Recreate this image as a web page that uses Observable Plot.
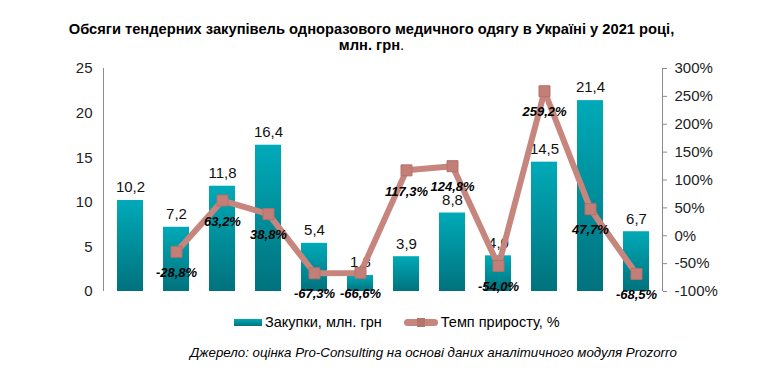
<!DOCTYPE html>
<html>
<head>
<meta charset="utf-8">
<script src="https://cdn.jsdelivr.net/npm/d3@7"></script>
<script src="https://cdn.jsdelivr.net/npm/@observablehq/plot@0.6"></script>
<style>
  html, body { margin: 0; padding: 0; background: #fff; }
  #wrap { position: relative; width: 782px; height: 380px; font-family: "Liberation Sans", Arial, sans-serif; color: #000; overflow: hidden; }
  #title { position: absolute; left: 0; top: 21px; width: 743px; text-align: center; font-weight: bold; font-size: 14.7px; line-height: 16px; }
  #chart { position: absolute; left: 0; top: 60px; }
  #legend { position: absolute; top: 313px; left: 234px; font-size: 14.5px; line-height: 18px; display: flex; align-items: center; white-space: nowrap; }
  .sw-bar { display: inline-block; width: 28px; height: 7px; background: linear-gradient(#00a9b6, #00737e); margin-right: 3px; }
  .sw-line { display: inline-block; position: relative; width: 34px; height: 7px; margin-left: 22px; margin-right: 3px; }
  .sw-line .ln { position: absolute; left: 0; top: 0; width: 34px; height: 7px; border-radius: 4px; background: #c6857d; }
  .sw-line .mk { position: absolute; left: 13px; top: -1px; width: 8px; height: 9px; background: #b8736c; }
  #caption { position: absolute; top: 345px; left: 190px; font-size: 13.3px; font-style: italic; white-space: nowrap; }
</style>
</head>
<body>
<div id="wrap">
  <div id="title">Обсяги тендерних закупівель одноразового медичного одягу в Україні у 2021 році,<br>млн. грн<span style="font-weight:normal">.</span></div>
  <div id="chart"></div>
  <div id="legend"><span class="sw-bar"></span>Закупки, млн. грн<span class="sw-line"><span class="ln"></span><span class="mk"></span></span>Темп приросту, %</div>
  <div id="caption">Джерело: оцінка Pro-Consulting на основі даних аналітичного модуля Prozorro</div>
</div>
<script>
// Data
const months = ["Січ", "Лют", "Бер", "Кві", "Тра", "Чер", "Лип", "Сер", "Вер", "Жов", "Лис", "Гру"];
const purchases = [10.2, 7.2, 11.8, 16.4, 5.4, 1.8, 3.9, 8.8, 4.0, 14.5, 21.4, 6.7];
const growth = [null, -28.8, 63.2, 38.8, -67.3, -66.6, 117.3, 124.8, -54.0, 259.2, 47.7, -68.5];
const leftTicks = [0, 5, 10, 15, 20, 25];
const rightTicks = [-100, -50, 0, 50, 100, 150, 200, 250, 300];

// right axis range mapped onto left scale
const pctMin = -100, pctMax = 300, leftMax = 25;
const pctToLeft = p => (p - pctMin) / (pctMax - pctMin) * leftMax;
const leftToPct = v => v / leftMax * (pctMax - pctMin) + pctMin;

const fmt = v => v.toFixed(1).replace(".", ",");

const bars = months.map((m, i) => ({month: m, value: purchases[i]}));
const line = months.map((m, i) => ({month: m, pct: growth[i]})).filter(d => d.pct != null);

const defs = () => {
  const d = d3.create("svg:defs");
  const g = d.append("linearGradient").attr("id", "barGrad").attr("x1", 0).attr("y1", 0).attr("x2", 0).attr("y2", 1);
  g.append("stop").attr("offset", "0%").attr("stop-color", "#00aab8");
  g.append("stop").attr("offset", "100%").attr("stop-color", "#00727d");
  return d.node();
};

// vertical axis lines at both sides of the frame
const axisLines = (index, scales, values, dims) => {
  const g = d3.create("svg:g").attr("stroke", "#8c8c8c").attr("stroke-width", 1);
  const top = dims.marginTop, bottom = dims.height - dims.marginBottom;
  const left = dims.marginLeft, right = dims.width - dims.marginRight;
  g.append("line").attr("x1", left + 0.5).attr("x2", left + 0.5).attr("y1", top).attr("y2", bottom);
  g.append("line").attr("x1", right + 0.5).attr("x2", right + 0.5).attr("y1", top).attr("y2", bottom);
  return g.node();
};

const chart = Plot.plot({
  width: 782,
  height: 250,
  marginLeft: 103,
  marginRight: 120,
  marginTop: 8,
  marginBottom: 19,
  style: {fontFamily: "'Liberation Sans', Arial, sans-serif", background: "transparent", overflow: "visible"},
  x: {domain: months, paddingInner: 0.44, paddingOuter: 0.22, axis: null},
  y: {domain: [0, leftMax], axis: null},
  marks: [
    defs,
    Plot.barY(bars, {x: "month", y: "value", fill: "url(#barGrad)"}),
    Plot.text(bars, {x: "month", y: "value", text: d => fmt(d.value), dy: -13, fontSize: 15, fill: "#111"}),
    Plot.line(line, {x: "month", y: d => pctToLeft(d.pct), stroke: "#c6857d", strokeWidth: 6, strokeLinejoin: "miter"}),
    Plot.dot(line, {x: "month", y: d => pctToLeft(d.pct), symbol: "square", r: 6.2, fill: "#c27f78", stroke: "#b57069", strokeWidth: 1}),
    Plot.text(line, {x: "month", y: d => pctToLeft(d.pct), text: d => fmt(d.pct) + "%", dy: 21, fontSize: 13, fontWeight: "bold", fontStyle: "italic", fill: "#000"}),
    axisLines,
    Plot.axisY({anchor: "left", label: null, ticks: leftTicks, tickSize: 0, tickPadding: 11, fontSize: 15, tickFormat: d => d, color: "#222"}),
    Plot.axisY({anchor: "right", label: null, ticks: rightTicks.map(pctToLeft), tickSize: 4, tickPadding: 8, fontSize: 15, tickFormat: v => Math.round(leftToPct(v)) + "%", stroke: "#8c8c8c", color: "#222"})
  ]
});
document.getElementById("chart").appendChild(chart);
</script>
</body>
</html>
